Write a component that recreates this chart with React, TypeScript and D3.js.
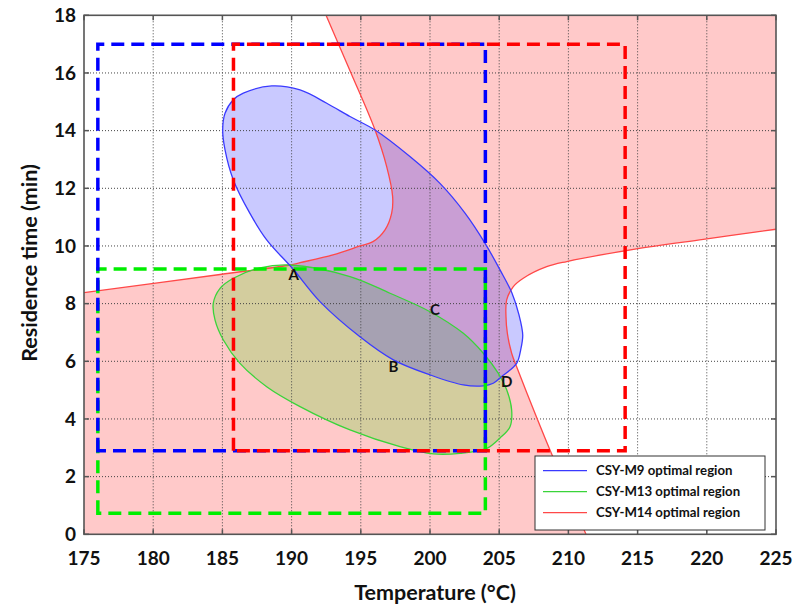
import React from 'react';
import * as d3 from 'd3';

const xTicks = [175, 180, 185, 190, 195, 200, 205, 210, 215, 220, 225];
const yTicks = [0, 2, 4, 6, 8, 10, 12, 14, 16, 18];

// CSY-M14 boundary (hyperbola-like), two branches (T, time)
const leftBranch: [number, number][] = [
  [192.49, 18.0], [194.29, 16.0], [196.03, 14.02], [196.87, 12.75], [197.3, 11.71],
  [197.23, 11.14], [196.75, 10.56], [195.88, 10.15], [194.94, 10.0], [192.99, 9.69],
  [190.61, 9.42], [189.88, 9.34], [184.83, 9.01], [175.0, 8.38],
];
const rightBranch: [number, number][] = [
  [225.0, 10.58], [219.75, 10.23], [214.81, 9.89], [209.88, 9.46], [208.43, 9.28],
  [206.74, 8.88], [206.02, 8.59], [205.54, 8.13], [205.49, 7.55], [205.59, 6.97],
  [205.9, 6.28], [206.26, 5.81], [207.0, 4.9], [208.67, 2.92], [211.27, 0.0],
];
// CSY-M9 optimal region
const m9Region: [number, number][] = [
  [188.56, 15.55], [190.61, 15.41], [192.54, 14.95], [194.22, 14.49], [196.03, 14.02],
  [198.55, 13.1], [200.72, 12.17], [202.53, 11.14], [203.97, 10.1], [205.06, 9.17],
  [205.92, 8.37], [206.43, 7.61], [206.7, 6.91], [206.55, 6.39],
  [206.26, 5.93], [205.18, 5.47], [204.57, 5.24], [203.85, 5.15], [202.41, 5.18],
  [200.0, 5.53], [197.35, 6.05], [194.94, 6.85], [192.05, 8.07], [190.1, 9.2],
  [188.2, 10.21], [186.99, 11.13], [185.79, 12.29], [185.19, 13.33], [185.02, 14.02],
  [185.19, 14.6], [185.79, 15.07], [186.51, 15.3],
];
// CSY-M13 optimal region
const m13Region: [number, number][] = [
  [189.88, 9.34], [194.22, 8.94], [197.11, 8.36], [200.0, 7.72], [202.41, 6.97],
  [203.85, 6.28], [204.94, 5.58], [205.54, 5.01], [205.9, 4.31], [205.78, 3.73],
  [205.06, 3.34], [204.1, 2.98], [202.17, 2.81], [200.24, 2.79], [197.83, 3.04],
  [194.22, 3.62], [190.61, 4.43], [188.2, 5.12], [186.27, 5.93], [185.07, 6.74],
  [184.47, 7.43], [184.34, 8.01], [184.83, 8.53], [185.79, 8.88], [187.72, 9.24],
];

// dashed boxes: [Tmin, Tmax, tmin, tmax]
const boxM9 = [176, 204, 2.9, 17];
const boxM13 = [176, 204, 0.73, 9.2];
const boxM14 = [185.8, 214.1, 2.9, 17];

const pointNames = ['A', 'B', 'C', 'D'];
const pointT = [190.15, 197.35, 200.36, 205.54];
const pointY = [9.02, 5.81, 7.81, 5.29];

const legendNames = ['CSY-M9 optimal region', 'CSY-M13 optimal region', 'CSY-M14 optimal region'];
const legendColors = ['#3a3aff', '#3ad43a', '#ff4848'];

const W = 796;
const H = 608;
const L = 84, R = 776, T = 15.3, B = 534.3;
const FONT = 'Lato, "Open Sans", sans-serif';

export default function App() {
  const x = d3.scaleLinear().domain([175, 225]).range([L, R]);
  const y = d3.scaleLinear().domain([0, 18]).range([B, T]);

  const openLine = d3.line<[number, number]>().x(d => x(d[0])).y(d => y(d[1])).curve(d3.curveCatmullRom.alpha(0.5));
  const closedLine = d3.line<[number, number]>().x(d => x(d[0])).y(d => y(d[1])).curve(d3.curveCatmullRomClosed.alpha(0.5));

  const leftPath = openLine(leftBranch) as string;
  const rightPath = openLine(rightBranch) as string;
  const leftWhite = `${leftPath}L${x(175)},${y(18)}Z`;
  const rightWhite = `${rightPath}L${x(225)},${y(0)}Z`;

  const boxPath = (b: number[]) =>
    `M${x(b[0])},${y(b[2])}L${x(b[0])},${y(b[3])}L${x(b[1])},${y(b[3])}L${x(b[1])},${y(b[2])}Z`;

  const frame = '#555';

  return (
    <svg width={W} height={H} style={{ position: 'absolute', left: 0, top: 0, background: '#fff' }}>
      <defs>
        <clipPath id="plotClip">
          <rect x={L} y={T} width={R - L} height={B - T} />
        </clipPath>
      </defs>
      <g clipPath="url(#plotClip)">
        <rect x={L} y={T} width={R - L} height={B - T} fill="rgb(255,201,201)" />
        <path d={leftWhite} fill="#fff" />
        <path d={rightWhite} fill="#fff" />
        <path d={closedLine(m13Region) as string} fill="rgb(110,215,60)" fillOpacity={0.3} />
        <path d={closedLine(m9Region) as string} fill="rgb(0,0,255)" fillOpacity={0.21} />
        {xTicks.slice(1, -1).map(t => (
          <line key={'gx' + t} x1={x(t)} x2={x(t)} y1={T} y2={B} stroke="#444" strokeWidth={1} strokeDasharray="1 2" />
        ))}
        {yTicks.slice(1, -1).map(t => (
          <line key={'gy' + t} x1={L} x2={R} y1={y(t)} y2={y(t)} stroke="#444" strokeWidth={1} strokeDasharray="1 2" />
        ))}
        <path d={leftPath} fill="none" stroke="#ff4848" strokeWidth={1.3} />
        <path d={rightPath} fill="none" stroke="#ff4848" strokeWidth={1.3} />
        <path d={closedLine(m13Region) as string} fill="none" stroke="#3ad43a" strokeWidth={1.3} />
        <path d={closedLine(m9Region) as string} fill="none" stroke="#3a3aff" strokeWidth={1.3} />
        <path d={boxPath(boxM13)} fill="none" stroke="#00ee00" strokeWidth={3.5} strokeDasharray="13 7" />
        <path d={boxPath(boxM9)} fill="none" stroke="#0000ff" strokeWidth={3.5} strokeDasharray="13 7" />
        <path d={boxPath(boxM14)} fill="none" stroke="#ff0000" strokeWidth={3.5} strokeDasharray="13 7" />
      </g>
      {/* frame and ticks */}
      <rect x={L} y={T} width={R - L} height={B - T} fill="none" stroke={frame} strokeWidth={1.6} />
      {xTicks.map(t => (
        <g key={'tx' + t}>
          <line x1={x(t)} x2={x(t)} y1={B} y2={B - 5} stroke={frame} strokeWidth={1.5} />
          <line x1={x(t)} x2={x(t)} y1={T} y2={T + 5} stroke={frame} strokeWidth={1.5} />
          <text x={x(t)} y={565} textAnchor="middle" fontFamily={FONT} fontWeight="bold" fontSize={19} fill="#111">{t}</text>
        </g>
      ))}
      {yTicks.map(t => (
        <g key={'ty' + t}>
          <line x1={L} x2={L + 5} y1={y(t)} y2={y(t)} stroke={frame} strokeWidth={1.5} />
          <line x1={R} x2={R - 5} y1={y(t)} y2={y(t)} stroke={frame} strokeWidth={1.5} />
          <text x={76} y={y(t) + 6.7} textAnchor="end" fontFamily={FONT} fontWeight="bold" fontSize={19} fill="#111">{t}</text>
        </g>
      ))}
      {/* point labels */}
      {pointNames.map((n, i) => (
        <text key={n} x={x(pointT[i])} y={y(pointY[i]) + 5.5} textAnchor="middle" fontFamily={FONT} fontWeight="bold" fontSize={15} fill="#111">{n}</text>
      ))}
      {/* axis titles */}
      <text x={435} y={600} textAnchor="middle" fontFamily={FONT} fontWeight="bold" fontSize={21.5} fill="#111">Temperature (°C)</text>
      <text transform="translate(37,263) rotate(-90)" textAnchor="middle" fontFamily={FONT} fontWeight="bold" fontSize={21.5} fill="#111">Residence time (min)</text>
      {/* legend */}
      <rect x={535} y={456} width={230} height={74} fill="#fff" stroke="#333" strokeWidth={1} />
      {legendNames.map((n, i) => (
        <g key={n}>
          <line x1={543} x2={587} y1={470.7 + i * 21} y2={470.7 + i * 21} stroke={legendColors[i]} strokeWidth={1.3} />
          <text x={596} y={475.3 + i * 21} fontFamily={FONT} fontWeight="bold" fontSize={13.2} fill="#111">{n}</text>
        </g>
      ))}
    </svg>
  );
}
